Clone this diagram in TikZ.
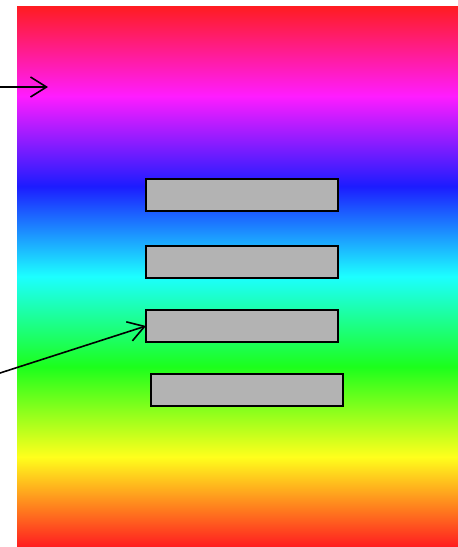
\documentclass[tikz,border=0pt]{standalone}
\usetikzlibrary{arrows.meta}
\definecolor{rRed}{RGB}{255,28,32}
\definecolor{rMag}{RGB}{255,28,255}
\definecolor{rBlue}{RGB}{28,28,255}
\definecolor{rCyan}{RGB}{28,255,255}
\definecolor{rGreen}{RGB}{28,255,28}
\definecolor{rYellow}{RGB}{255,255,28}
\definecolor{boxgray}{RGB}{179,179,179}
\pgfdeclareverticalshading{rainbowv}{100bp}{%
  color(0bp)=(rRed); color(25bp)=(rRed);
  color(33.333bp)=(rYellow);
  color(41.667bp)=(rGreen);
  color(50bp)=(rCyan);
  color(58.333bp)=(rBlue);
  color(66.667bp)=(rMag);
  color(75bp)=(rRed); color(100bp)=(rRed)}
\tikzset{
  bar/.style={draw=black, line width=2pt, fill=boxgray, minimum width=192pt, minimum height=32pt, inner sep=0pt, outer sep=0pt, anchor=north west},
  pointer/.style={line width=1.6pt, -{Straight Barb[length=16pt,width=20pt,line width=1.6pt]}}
}
\begin{document}
\begin{tikzpicture}[x=1pt,y=-1pt]
\useasboundingbox (0,0) rectangle (458,547);
\shade[shading=rainbowv] (17,6) rectangle (458,547);
\node[bar] (b1) at (146,179) {};
\node[bar] (b2) at (146,246) {};
\node[bar] (b3) at (146,310) {};
\node[bar] (b4) at (151,374) {};
\coordinate (s1) at (0,87);
\coordinate (e1) at (48,87);
\coordinate (s2) at (0,373);
\draw[pointer] (s1) -- (e1);
\draw[pointer] (s2) -- (b3.west);
\end{tikzpicture}
\end{document}
